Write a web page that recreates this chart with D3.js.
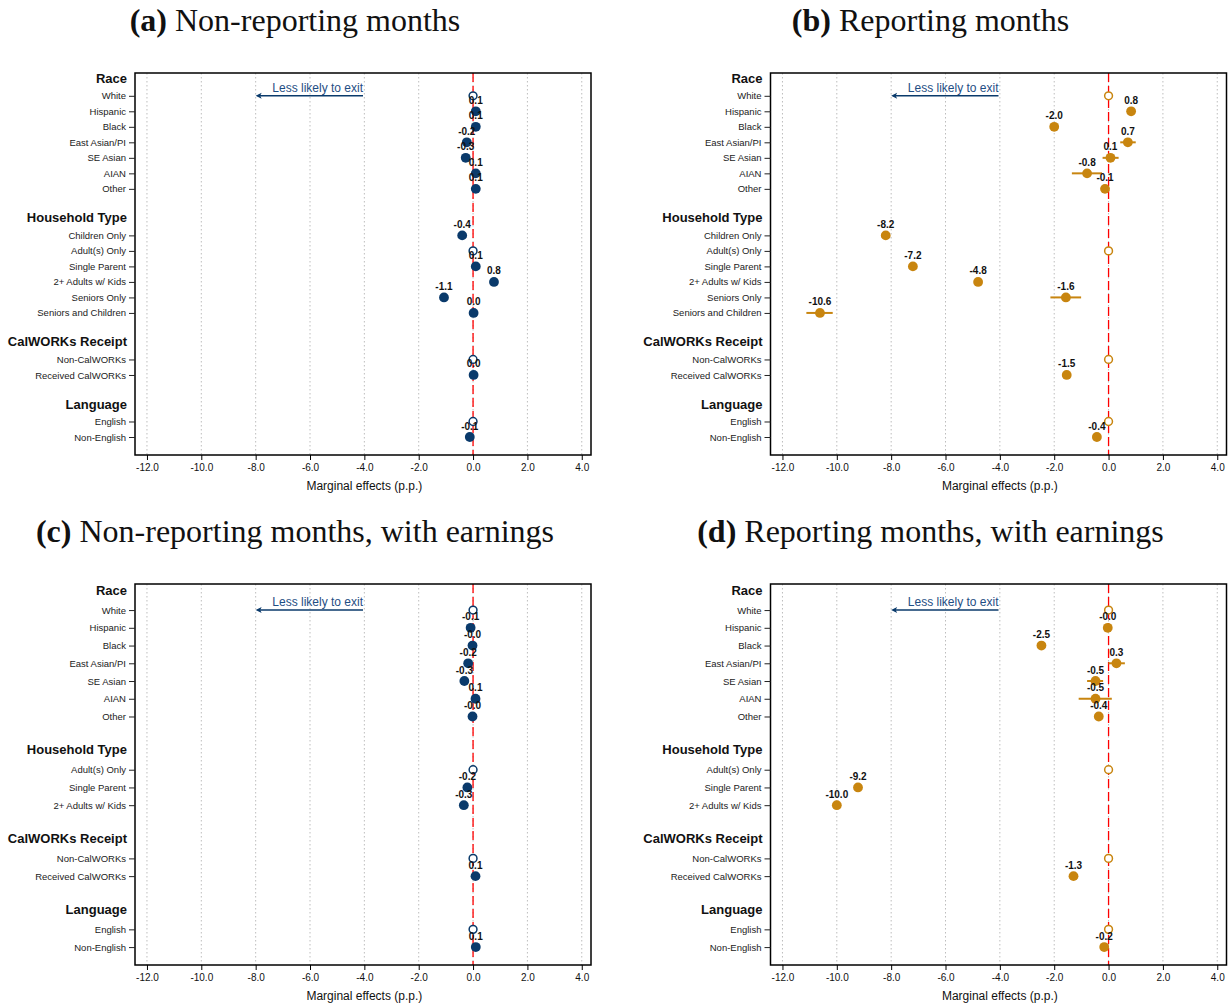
<!DOCTYPE html>
<html>
<head>
<meta charset="utf-8">
<script src="https://cdn.jsdelivr.net/npm/d3@7"></script>
<style>
  body { margin: 0; background: #fff; }
  svg { display: block; }
</style>
</head>
<body>
<svg id="chart" width="1231" height="1006"></svg>
<script>
// Category groups (heading + rows)
const groupNames = ["Race", "Household Type", "CalWORKs Receipt", "Language"];
const raceCats = ["White", "Hispanic", "Black", "East Asian/PI", "SE Asian", "AIAN", "Other"];
const hhCatsAll = ["Children Only", "Adult(s) Only", "Single Parent", "2+ Adults w/ Kids", "Seniors Only", "Seniors and Children"];
const hhCatsEarn = ["Adult(s) Only", "Single Parent", "2+ Adults w/ Kids"];
const calCats = ["Non-CalWORKs", "Received CalWORKs"];
const langCats = ["English", "Non-English"];
const refCats = ["White", "Adult(s) Only", "Non-CalWORKs", "English"];

// x axis ticks
const xTicks = [-12, -10, -8, -6, -4, -2, 0, 2, 4];

// (a) Non-reporting months: estimates in category order (reference = 0)
const valsA = [0, 0.1, 0.1, -0.23, -0.27, 0.1, 0.1,
               -0.4, 0, 0.1, 0.77, -1.07, 0.02,
               0, 0.02,
               0, -0.12];
const loA = valsA.map(() => null);
const hiA = valsA.map(() => null);

// (b) Reporting months
const valsB = [0, 0.83, -2.0, 0.71, 0.07, -0.79, -0.13,
               -8.2, 0, -7.2, -4.8, -1.57, -10.62,
               0, -1.54,
               0, -0.43];
const loB = [null, null, null, 0.43, -0.22, -1.35, null,
             null, null, null, null, -2.14, -11.12,
             null, null,
             null, null];
const hiB = [null, null, null, 1.0, 0.37, -0.24, null,
             null, null, null, null, -1.01, -10.15,
             null, null,
             null, null];

// (c) Non-reporting months, with earnings
const valsC = [0, -0.09, -0.02, -0.18, -0.32, 0.09, -0.02,
               0, -0.21, -0.34,
               0, 0.09,
               0, 0.1];
const loC = valsC.map(() => null);
const hiC = valsC.map(() => null);

// (d) Reporting months, with earnings
const valsD = [0, -0.03, -2.47, 0.29, -0.48, -0.48, -0.36,
               0, -9.22, -10.0,
               0, -1.29,
               0, -0.16];
const loD = [null, null, null, 0.0, -0.79, -1.1, null,
             null, null, null,
             null, null,
             null, null];
const hiD = [null, null, null, 0.6, -0.2, 0.12, null,
             null, null, null,
             null, null,
             null, null];

const blue = "#0a3a6b";
const orange = "#c8850f";

const svg = d3.select("#chart");

// Build row layout: rows in each group, 3-unit gap between groups
function buildLayout(groups) {
  const rows = [], heads = [];
  let pos = 0;
  groups.forEach((cats, gi) => {
    heads.push({ name: groupNames[gi], pos: pos - 1.13 });
    cats.forEach(c => { rows.push({ cat: c, pos: pos }); pos += 1; });
    pos += 2;
  });
  return { rows, heads, last: pos - 3 };
}

function drawPanel(opt) {
  const layout = buildLayout(opt.groups);
  const x = d3.scaleLinear().domain([-12.44, 4.34]).range([opt.left, opt.left + 456]);
  const y = d3.scaleLinear().domain([-1.47, layout.last + opt.padBottom]).range([opt.top, opt.bottom]);
  const g = svg.append("g");

  // title
  const t = g.append("text")
    .attr("x", opt.left + 160).attr("y", opt.titleY)
    .attr("text-anchor", "middle")
    .style("font-family", "'Liberation Serif', serif")
    .style("font-size", "32px")
    .attr("fill", "#111");
  t.append("tspan").style("font-weight", "bold").text(opt.tag);
  t.append("tspan").text(" " + opt.title);

  // gridlines
  g.selectAll(".grid").data(xTicks).join("line")
    .attr("x1", d => x(d)).attr("x2", d => x(d))
    .attr("y1", opt.top).attr("y2", opt.bottom)
    .attr("stroke", "#bdbdbd").attr("stroke-width", 1)
    .attr("stroke-dasharray", "1.5,2.5");

  // zero line
  g.append("line")
    .attr("x1", x(0)).attr("x2", x(0))
    .attr("y1", opt.top).attr("y2", opt.bottom)
    .attr("stroke", "#ff0000").attr("stroke-width", 1.3)
    .attr("stroke-dasharray", "9,4");

  // frame
  g.append("rect")
    .attr("x", opt.left).attr("y", opt.top)
    .attr("width", 456).attr("height", opt.bottom - opt.top)
    .attr("fill", "none").attr("stroke", "#000").attr("stroke-width", 1.5);

  // x axis
  const xa = g.append("g")
    .attr("transform", `translate(0,${opt.bottom})`)
    .call(d3.axisBottom(x).tickValues(xTicks).tickFormat(d => d.toFixed(1)).tickSize(5).tickSizeOuter(0));
  xa.select(".domain").remove();
  xa.selectAll("line").attr("stroke", "#000");
  xa.selectAll("text")
    .style("font-family", "'Liberation Sans', Arial, sans-serif")
    .style("font-size", "10px").attr("fill", "#111").attr("dy", "0.8em");

  g.append("text")
    .attr("x", x(-4)).attr("y", opt.bottom + 35)
    .attr("text-anchor", "middle")
    .style("font-family", "'Liberation Sans', Arial, sans-serif")
    .style("font-size", "12px").attr("fill", "#111")
    .text("Marginal effects (p.p.)");

  // y axis with category labels
  const ya = g.append("g")
    .attr("transform", `translate(${opt.left},0)`)
    .call(d3.axisLeft(y).tickValues(layout.rows.map(r => r.pos))
      .tickFormat((d, i) => layout.rows[i].cat).tickSize(6).tickPadding(3));
  ya.select(".domain").remove();
  ya.selectAll("line").attr("stroke", "#222");
  ya.selectAll("text")
    .style("font-family", "'Liberation Sans', Arial, sans-serif")
    .style("font-size", "9.5px").attr("fill", "#222");

  // group headings
  g.selectAll(".head").data(layout.heads).join("text")
    .attr("x", opt.left - 8).attr("y", d => y(d.pos))
    .attr("dy", "0.35em")
    .attr("text-anchor", "end")
    .style("font-family", "'Liberation Sans', Arial, sans-serif")
    .style("font-size", "13px").style("font-weight", "bold").attr("fill", "#111")
    .text(d => d.name);

  // arrow annotation
  const ay = y(0);
  g.append("text")
    .attr("x", x(-4.05)).attr("y", ay - 4)
    .attr("text-anchor", "end")
    .style("font-family", "'Liberation Sans', Arial, sans-serif")
    .style("font-size", "12px").attr("fill", "#1f4e84")
    .text("Less likely to exit");
  g.append("line")
    .attr("x1", x(-4.05)).attr("x2", x(-8) + 2)
    .attr("y1", ay).attr("y2", ay)
    .attr("stroke", "#0a3a6b").attr("stroke-width", 1.5);
  g.append("path")
    .attr("d", `M${x(-8)},${ay} l6,-3 l-1.5,3 l1.5,3 z`)
    .attr("fill", "#0a3a6b");

  // points
  const pts = layout.rows.map((r, i) => ({
    cat: r.cat, pos: r.pos, v: opt.vals[i], lo: opt.lo[i], hi: opt.hi[i],
    ref: refCats.includes(r.cat)
  }));

  g.selectAll(".ci").data(pts.filter(d => d.lo !== null)).join("line")
    .attr("x1", d => x(d.lo)).attr("x2", d => x(d.hi))
    .attr("y1", d => y(d.pos)).attr("y2", d => y(d.pos))
    .attr("stroke", opt.color).attr("stroke-width", 2);

  g.selectAll(".pt").data(pts.filter(d => !d.ref)).join("circle")
    .attr("cx", d => x(d.v)).attr("cy", d => y(d.pos)).attr("r", 4.9)
    .attr("fill", opt.color);

  g.selectAll(".refpt").data(pts.filter(d => d.ref)).join("circle")
    .attr("cx", d => x(d.v)).attr("cy", d => y(d.pos)).attr("r", 3.9)
    .attr("fill", "#fff").attr("stroke", opt.color).attr("stroke-width", 1.5);

  g.selectAll(".lab").data(pts.filter(d => !d.ref)).join("text")
    .attr("x", d => x(d.v)).attr("y", d => y(d.pos) - 7.5)
    .attr("text-anchor", "middle")
    .style("font-family", "'Liberation Sans', Arial, sans-serif")
    .style("font-size", "10px").style("font-weight", "bold").attr("fill", "#111")
    .text(d => d.v.toFixed(1));
}

const topGroups = [raceCats, hhCatsAll, calCats, langCats];
const botGroups = [raceCats, hhCatsEarn, calCats, langCats];

drawPanel({ tag: "(a)", title: "Non-reporting months", titleY: 31, left: 135, top: 73, bottom: 455, padBottom: 1.16,
  groups: topGroups, vals: valsA, lo: loA, hi: hiA, color: blue });
drawPanel({ tag: "(b)", title: "Reporting months", titleY: 31, left: 770.5, top: 73, bottom: 455, padBottom: 1.16,
  groups: topGroups, vals: valsB, lo: loB, hi: hiB, color: orange });
drawPanel({ tag: "(c)", title: "Non-reporting months, with earnings", titleY: 542, left: 135, top: 584, bottom: 965, padBottom: 1.01,
  groups: botGroups, vals: valsC, lo: loC, hi: hiC, color: blue });
drawPanel({ tag: "(d)", title: "Reporting months, with earnings", titleY: 542, left: 770.5, top: 584, bottom: 965, padBottom: 1.01,
  groups: botGroups, vals: valsD, lo: loD, hi: hiD, color: orange });
</script>
</body>
</html>
